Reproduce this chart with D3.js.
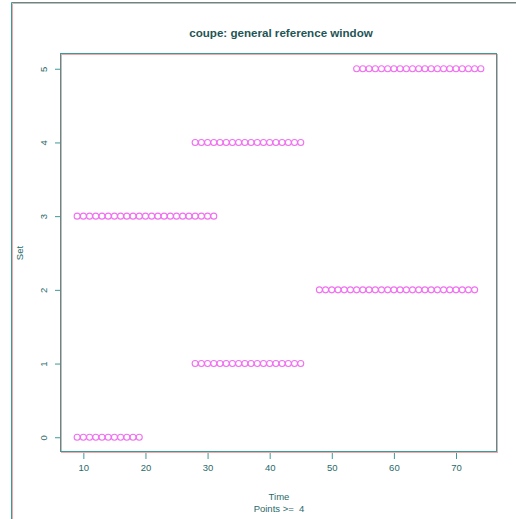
<!DOCTYPE html>
<html><head><meta charset="utf-8">
<script src="https://cdn.jsdelivr.net/npm/d3@7"></script>
<style>body{margin:0;background:#fff}svg{display:block}text{font-family:"Liberation Sans",Arial,sans-serif;white-space:pre}</style>
</head><body>
<script>
const title = "coupe: general reference window";
const xLabel = "Time";
const subLabel = "Points >=  4";
const yLabel = "Set";
const xTicks = [10, 20, 30, 40, 50, 60, 70];
const yTicks = [0, 1, 2, 3, 4, 5];
// each set: [set, first time, last time] (one point per time unit)
const setIds    = [0, 1, 2, 3, 4, 5];
const setStarts = [9, 28, 48, 9, 28, 54];
const setEnds   = [19, 45, 73, 31, 45, 74];

const W = 516, H = 519;
const m = {l: 61, r: 497, t: 54, b: 452};
const svg = d3.select("body").append("svg").attr("width", W).attr("height", H);
const teal = "#3a9a9a", red = "#f0a8a8", txt = "#2a6a6a";

const pts = [];
setIds.forEach((s, i) => { for (let t = setStarts[i]; t <= setEnds[i]; t++) pts.push({t, s}); });
const xmin = d3.min(setStarts), xmax = d3.max(setEnds);
const xpad = (xmax - xmin) * 0.04, ypad = 5 * 0.04;
const x = d3.scaleLinear().domain([xmin - xpad, xmax + xpad]).range([m.l, m.r]);
const y = d3.scaleLinear().domain([0 - ypad, 5 + ypad]).range([m.b, m.t]);

// outer frame
svg.append("path").attr("d", `M12.5,${H}V3.5H${W}`).attr("fill","none").attr("stroke", red).attr("stroke-width",1);
svg.append("path").attr("d", `M11.5,${H}V2.5H${W}`).attr("fill","none").attr("stroke", teal).attr("stroke-width",1);

// title
svg.append("text").attr("x", (m.l+m.r)/2 + 2).attr("y", 37).attr("text-anchor","middle")
  .attr("font-size", 11.6).attr("font-weight","bold").attr("fill", "#1f5555").text(title);

// points
svg.append("g").selectAll("circle").data(pts).join("circle")
  .attr("cx", d => x(d.t)).attr("cy", d => y(d.s)).attr("r", 3)
  .attr("fill","none").attr("stroke","#f070f0").attr("stroke-width",1.1);

// axes
const xAxis = svg.append("g").attr("transform", `translate(0,${m.b})`)
  .call(d3.axisBottom(x).tickValues(xTicks).tickSize(7).tickPadding(5).tickFormat(d3.format("d")));
const yAxis = svg.append("g").attr("transform", `translate(${m.l},0)`)
  .call(d3.axisLeft(y).tickValues(yTicks).tickSize(6).tickPadding(0).tickFormat(d3.format("d")));
[xAxis, yAxis].forEach(a => {
  a.select(".domain").remove();
  a.selectAll(".tick line").attr("stroke", teal);
  a.selectAll(".tick text").attr("fill", txt).attr("font-size", 9.5).attr("font-family", '"Liberation Sans",Arial,sans-serif');
});
yAxis.selectAll(".tick text").attr("transform", "rotate(-90)").attr("text-anchor","middle")
  .attr("x", 0).attr("y", -17).attr("dy", "0.32em");

// plot box
svg.append("rect").attr("x", m.l+0.5).attr("y", m.t+0.5).attr("width", m.r-m.l).attr("height", m.b-m.t)
  .attr("fill","none").attr("stroke", red).attr("stroke-width",1);
svg.append("rect").attr("x", m.l-0.5).attr("y", m.t-0.5).attr("width", m.r-m.l).attr("height", m.b-m.t)
  .attr("fill","none").attr("stroke", teal).attr("stroke-width",1);

// labels
svg.append("text").attr("x", (m.l+m.r)/2).attr("y", 500).attr("text-anchor","middle")
  .attr("font-size", 9.5).attr("fill", txt).text(xLabel);
svg.append("text").attr("x", (m.l+m.r)/2).attr("y", 512).attr("text-anchor","middle")
  .attr("font-size", 9.5).attr("fill", txt).text(subLabel);
svg.append("text").attr("transform", `translate(23,${(m.t+m.b)/2}) rotate(-90)`).attr("text-anchor","middle")
  .attr("font-size", 9.5).attr("fill", txt).text(yLabel);
</script>
</body></html>
